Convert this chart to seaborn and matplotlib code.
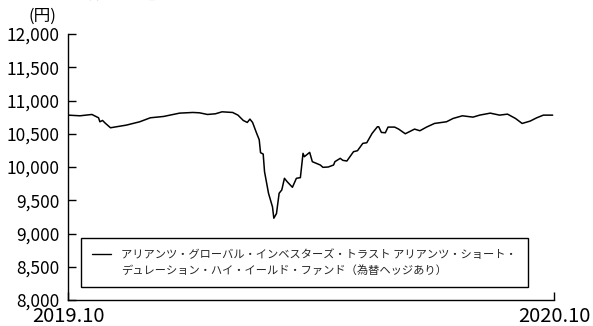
import matplotlib
matplotlib.use("Agg")
import matplotlib.pyplot as plt
from matplotlib.lines import Line2D
from matplotlib.ticker import FuncFormatter
import pandas as pd
import seaborn as sns

# Net asset value (yen) of the fund
dates = [
    "2019-10-01", "2019-10-10", "2019-10-19", "2019-10-24", "2019-10-25", "2019-10-27",
    "2019-10-29", "2019-11-02", "2019-11-05", "2019-11-14", "2019-11-24", "2019-12-02",
    "2019-12-12", "2019-12-24", "2020-01-03", "2020-01-08", "2020-01-14", "2020-01-20",
    "2020-01-25", "2020-02-02", "2020-02-06", "2020-02-10", "2020-02-13", "2020-02-15",
    "2020-02-17", "2020-02-20", "2020-02-22", "2020-02-23", "2020-02-25", "2020-02-26",
    "2020-02-29", "2020-03-03", "2020-03-04", "2020-03-06", "2020-03-08", "2020-03-10",
    "2020-03-12", "2020-03-14", "2020-03-18", "2020-03-21", "2020-03-24", "2020-03-26",
    "2020-03-27", "2020-03-31", "2020-04-02", "2020-04-08", "2020-04-10", "2020-04-14",
    "2020-04-18", "2020-04-19", "2020-04-23", "2020-04-25", "2020-04-28", "2020-05-03",
    "2020-05-06", "2020-05-10", "2020-05-13", "2020-05-17", "2020-05-21", "2020-05-22",
    "2020-05-24", "2020-05-27", "2020-05-29", "2020-06-03", "2020-06-06", "2020-06-11",
    "2020-06-15", "2020-06-18", "2020-06-22", "2020-06-27", "2020-07-03", "2020-07-12",
    "2020-07-17", "2020-07-24", "2020-08-01", "2020-08-06", "2020-08-14", "2020-08-21",
    "2020-08-27", "2020-09-02", "2020-09-07", "2020-09-13", "2020-09-18", "2020-09-23",
    "2020-09-26", "2020-09-30",
]
nav = [
    10780, 10770, 10790, 10740, 10680, 10700,
    10660, 10590, 10600, 10630, 10680, 10740,
    10760, 10810, 10820, 10815, 10790, 10800,
    10830, 10820, 10780, 10700, 10670, 10720,
    10670, 10510, 10410, 10215, 10195, 9930,
    9605, 9400, 9230, 9300, 9605, 9655,
    9830, 9780, 9695, 9830, 9840, 10205,
    10155, 10220, 10080, 10030, 9995, 10000,
    10030, 10080, 10130, 10100, 10090, 10230,
    10245, 10355, 10365, 10505, 10605, 10605,
    10520, 10515, 10600, 10600, 10570, 10500,
    10540, 10570, 10545, 10600, 10655, 10680,
    10730, 10770, 10750, 10780, 10810, 10780,
    10795, 10730, 10655, 10690, 10740, 10780,
    10780, 10780,
]
series_name_lines = [
    "アリアンツ・グローバル・インベスターズ・トラスト アリアンツ・ショート・",
    "デュレーション・ハイ・イールド・ファンド（為替ヘッジあり）",
]
period = ["2019-10-01", "2020-10-01"]
period_labels = ["2019.10", "2020.10"]
y_ticks = [8000, 8500, 9000, 9500, 10000, 10500, 11000, 11500, 12000]
title = "【基準価額の推移】"
unit = "(円)"

sns.set_theme(style="white")
plt.rcParams["font.family"] = ["Noto Sans CJK JP", "DejaVu Sans"]

df = pd.DataFrame({"date": pd.to_datetime(dates), "nav": nav})

fig = plt.figure(figsize=(5.93, 3.26), dpi=100)
ax = fig.add_axes([68 / 593, 1 - 300 / 326, 486 / 593, 266 / 326])

sns.lineplot(data=df, x="date", y="nav", ax=ax, color="black", linewidth=1.1)

x0, x1 = pd.to_datetime(period)
ax.set_xlim(x0, x1)
ax.set_ylim(y_ticks[0], y_ticks[-1])
ax.set_yticks(y_ticks)
ax.yaxis.set_major_formatter(FuncFormatter(lambda v, p: f"{int(v):,}"))
ax.set_xticks([x0, x1])
ax.set_xticklabels(period_labels)
ax.set_xlabel("")
ax.set_ylabel("")

for side in ("top", "right"):
    ax.spines[side].set_visible(False)
for side in ("left", "bottom"):
    ax.spines[side].set_color("black")
    ax.spines[side].set_linewidth(1.0)

ax.tick_params(axis="y", direction="in", length=6, width=1.0, color="black",
               pad=6, labelsize=12.5, labelcolor="black", left=True)
ax.tick_params(axis="x", direction="in", length=6, width=1.0, color="black",
               pad=4.5, labelsize=14.5, labelcolor="black", bottom=True)

ax.text(-0.053, 1.068, unit, transform=ax.transAxes, ha="center", va="center",
        fontsize=12, color="black")
# heading sits just above the top edge of the canvas
fig.text(17 / 593, 1 + 1.2 / 326, title, ha="left", va="baseline",
         fontsize=12, color="black")

handles = [Line2D([], [], color="black", linewidth=1.0),
           Line2D([], [], color="none", linewidth=0)]
leg = ax.legend(handles, series_name_lines, loc="lower left",
                bbox_to_anchor=(0.027, 0.049), borderaxespad=0,
                fontsize=8.1, frameon=True, fancybox=False, edgecolor="black",
                framealpha=1, handlelength=1.7, handletextpad=0.85,
                labelspacing=0.4, borderpad=1.0)
leg.get_frame().set_linewidth(1.0)

fig.savefig("out.png", dpi=100)
